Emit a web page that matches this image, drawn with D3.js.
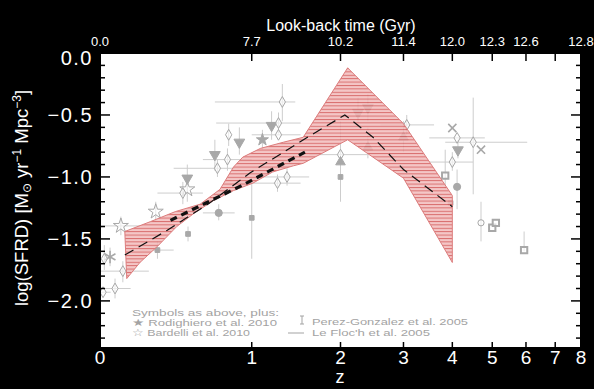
<!DOCTYPE html>
<html>
<head>
<meta charset="utf-8">
<script src="https://cdn.jsdelivr.net/npm/d3@7"></script>
<style>
  body { margin: 0; background: #000; }
  svg { display: block; }
  text { font-family: "Liberation Sans", Arial, sans-serif; }
</style>
</head>
<body>
<div id="chart"></div>
<script>
// axis ticks
const zTicks = [0, 1, 2, 3, 4, 5, 6, 7, 8];
const lookbackLabels = ["0.0", "7.7", "10.2", "11.4", "12.0", "12.3", "12.6", "", "12.8"];
const yMajor = [0, -0.5, -1, -1.5, -2];

// hatched band: upper and lower edges
const upZ = [0.12, 0.26, 0.41, 0.58, 0.73, 0.84, 0.92, 1.08, 1.31, 1.53, 2.1, 3.0, 4.0];
const upV = [-1.44, -1.36, -1.28, -1.22, -1.10, -0.92, -0.84, -0.77, -0.72, -0.68, -0.12, -0.57, -1.15];
const loZ = [0.13, 0.20, 0.30, 0.42, 0.54, 0.68, 0.84, 1.01, 1.20, 1.42, 1.53, 2.1, 3.0, 4.0];
const loV = [-1.82, -1.69, -1.56, -1.40, -1.29, -1.19, -1.11, -1.05, -0.96, -0.91, -0.89, -0.70, -1.01, -1.69];

// thin dashed fit and thick dashed line
const fitZ = [0.12, 0.36, 0.65, 0.98, 1.58, 2.06, 2.48, 3.0, 4.0];
const fitV = [-1.63, -1.43, -1.21, -0.97, -0.68, -0.50, -0.68, -0.94, -1.24];
const lfZ = [0.38, 0.92, 1.55];
const lfV = [-1.35, -1.065, -0.80];

// gray data points (z, log SFRD, symbol, z range, value range)
const ptZ   = [0.047, 0.10, 0.014, 0.071, 0.11, 0.02, 0.29, 0.30, 0.495, 0.49, 0.46, 0.49, 0.72, 1.0, 0.69, 0.89, 0.79, 0.71, 0.80, 1.30, 1.19, 1.26, 1.10, 1.26, 1.25, 1.35, 2.0, 2.0, 2.0, 2.40, 2.25, 2.40, 3.0, 3.06, 3.96, 4.0, 4.11, 4.5, 4.13, 4.7, 4.0, 3.84, 4.11, 4.7, 5.0, 5.1, 5.94];
const ptV   = [-1.645, -1.395, -1.93, -1.90, -1.76, -1.66, -1.28, -1.59, -1.46, -1.10, -1.13, -1.01, -1.29, -1.33, -0.82, -0.72, -0.86, -0.93, -0.66, -0.395, -0.585, -0.565, -0.70, -0.66, -1.05, -1.0, -0.82, -0.88, -1.0, -0.44, -0.48, -0.76, -0.68, -0.58, -1.21, -0.605, -0.685, -0.72, -0.782, -0.78, -0.88, -0.99, -1.08, -1.37, -1.41, -1.37, -1.59];
const ptSym = ["ast", "st", "d", "d", "d", "d", "st", "sf", "sf", "st", "d", "tdn", "c", "sf", "tdn", "tdn", "d", "d", "d", "d", "tdn", "d", "fst", "d", "d", "d", "d", "tup", "sf", "tdn", "tdn", "tup", "tup", "d", "sf", "x", "d", "d", "tdn", "x", "d", "sq", "c", "co", "sq", "sq", "sq"];
const ptZlo = [null, 0.0, 0.0, 0.0, 0.0, null, null, 0.2, null, null, 0.3, null, 0.6, null, null, null, 0.6, 0.4, null, 0.69, null, 0.70, null, 1.0, 0.9, 1.1, 1.6, null, null, null, null, null, null, 2.6, null, null, 3.5, 3.84, null, null, 3.5, null, null, null, null, null, null];
const ptZhi = [null, 0.20, 0.05, 0.15, 0.25, null, null, 0.4, null, null, 0.6, null, 0.85, null, null, null, 1.0, 0.85, null, 1.44, null, 1.5, null, 1.5, 1.5, 1.6, 2.4, null, null, null, null, null, null, 3.6, null, null, 4.8, 6.04, null, null, 4.5, null, null, null, null, null, null];
const ptVlo = [-1.72, -1.47, null, -1.98, -1.85, -1.75, -1.36, -1.66, -1.52, -1.20, -1.22, -1.10, -1.35, -1.66, -0.95, -0.82, -0.95, -1.0, -0.75, -0.55, -0.70, -0.65, -0.78, null, -1.12, -1.07, -1.0, null, -1.2, -0.55, -0.60, -0.85, -0.80, -0.66, null, null, null, -1.14, -0.85, null, -0.95, -1.1, -1.26, -1.52, null, null, -1.6];
const ptVhi = [-1.57, -1.32, null, -1.82, -1.68, -1.55, -1.20, -1.52, -1.40, -1.00, -1.04, -0.90, -1.22, -1.05, -0.70, -0.60, -0.77, -0.86, -0.57, -0.25, -0.47, -0.48, -0.62, null, -0.98, -0.93, -0.55, null, -0.9, -0.33, -0.36, -0.60, -0.55, -0.50, null, null, null, -0.36, -0.70, null, -0.80, -0.78, -0.94, -1.20, null, null, -1.44];

const W = 594, H = 389;
const margin = {top: 53, right: 13, bottom: 41, left: 100};

const x = d3.scaleLog().domain([1, 9]).range([margin.left, W - margin.right]);
const y = d3.scaleLinear().domain([-2.38, 0]).range([H - margin.bottom, margin.top]);
const zx = z => x(1 + z);

const svg = d3.select("#chart").append("svg")
  .attr("width", W)
  .attr("height", H);

svg.append("rect").attr("width", W).attr("height", H).attr("fill", "#000");

const x0 = margin.left, x1 = W - margin.right, y0 = margin.top, y1 = H - margin.bottom;

svg.append("rect")
  .attr("x", x0).attr("y", y0)
  .attr("width", x1 - x0).attr("height", y1 - y0)
  .attr("fill", "#fff");

// hatch pattern for the band
const defs = svg.append("defs");
const pat = defs.append("pattern")
  .attr("id", "hatch")
  .attr("patternUnits", "userSpaceOnUse")
  .attr("width", 6).attr("height", 3.4);
pat.append("rect").attr("width", 6).attr("height", 3.4).attr("fill", "#f2bcbc");
pat.append("line").attr("x1", 0).attr("x2", 6).attr("y1", 0.5).attr("y2", 0.5)
  .attr("stroke", "#cf4a4a").attr("stroke-width", 0.9);

defs.append("clipPath").attr("id", "plotclip")
  .append("rect").attr("x", x0).attr("y", y0).attr("width", x1 - x0).attr("height", y1 - y0);

const plot = svg.append("g").attr("clip-path", "url(#plotclip)");

// gray points with error bars
const pts = ptZ.map((z, i) => ({z: z, v: ptV[i], sym: ptSym[i], zlo: ptZlo[i], zhi: ptZhi[i], vlo: ptVlo[i], vhi: ptVhi[i]}));
const errColor = "#cdcdcd", symColor = "#a8a8a8";

plot.selectAll(".xerr")
  .data(pts.filter(d => d.zlo !== null))
  .enter().append("line")
  .attr("x1", d => zx(d.zlo)).attr("x2", d => zx(d.zhi))
  .attr("y1", d => y(d.v)).attr("y2", d => y(d.v))
  .attr("stroke", errColor).attr("stroke-width", 1);

plot.selectAll(".yerr")
  .data(pts.filter(d => d.vlo !== null))
  .enter().append("line")
  .attr("x1", d => zx(d.z)).attr("x2", d => zx(d.z))
  .attr("y1", d => y(d.vlo)).attr("y2", d => y(d.vhi))
  .attr("stroke", errColor).attr("stroke-width", 1);

const symType = {
  d: d3.symbolDiamond, st: d3.symbolStar, fst: d3.symbolStar, sf: d3.symbolSquare, sq: d3.symbolSquare,
  c: d3.symbolCircle, co: d3.symbolCircle, tdn: d3.symbolTriangle, tup: d3.symbolTriangle,
  x: d3.symbolTimes || d3.symbolCross, ast: d3.symbolAsterisk || d3.symbolCross
};
const symSize = {d: 34, st: 70, fst: 45, sf: 22, sq: 40, c: 40, co: 30, tdn: 50, tup: 40, x: 45, ast: 110};
const openSym = {d: true, st: true, sq: true, co: true, x: true, ast: true};

plot.selectAll(".pt")
  .data(pts)
  .enter().append("path")
  .attr("transform", d => `translate(${zx(d.z)},${y(d.v)})` + (d.sym === "tdn" ? " rotate(180)" : ""))
  .attr("d", d => d3.symbol().type(symType[d.sym]).size(symSize[d.sym])())
  .attr("fill", d => openSym[d.sym] ? (d.sym === "x" || d.sym === "ast" ? "none" : "#fff") : symColor)
  .attr("fill-opacity", d => openSym[d.sym] ? 0.6 : 1)
  .attr("stroke", symColor)
  .attr("stroke-width", d => d.sym === "sq" ? 2 : (d.sym === "x" || d.sym === "ast" ? 1.6 : 1));

// band
const bandPts = upZ.map((z, i) => [zx(z), y(upV[i])])
  .concat(loZ.map((z, i) => [zx(z), y(loV[i])]).reverse());

plot.append("path")
  .attr("d", d3.line()(bandPts) + "Z")
  .attr("fill", "url(#hatch)")
  .attr("fill-opacity", 0.85)
  .attr("stroke", "#dc7c7c")
  .attr("stroke-width", 1);

// dashed lines
plot.append("path")
  .datum(lfZ.map((z, i) => [zx(z), y(lfV[i])]))
  .attr("d", d3.line())
  .attr("fill", "none")
  .attr("stroke", "#111")
  .attr("stroke-width", 3.2)
  .attr("stroke-dasharray", "7,5");

plot.append("path")
  .datum(fitZ.map((z, i) => [zx(z), y(fitV[i])]))
  .attr("d", d3.line())
  .attr("fill", "none")
  .attr("stroke", "#111")
  .attr("stroke-width", 1.2)
  .attr("stroke-dasharray", "10,6");

// frame
svg.append("rect")
  .attr("x", x0).attr("y", y0)
  .attr("width", x1 - x0).attr("height", y1 - y0)
  .attr("fill", "none").attr("stroke", "#000").attr("stroke-width", 2);

// ticks, all pointing inward
const tickG = svg.append("g").attr("stroke", "#000").attr("stroke-width", 1.5);
zTicks.forEach(z => {
  tickG.append("line").attr("x1", zx(z)).attr("x2", zx(z)).attr("y1", y1).attr("y2", y1 - 6);
  tickG.append("line").attr("x1", zx(z)).attr("x2", zx(z)).attr("y1", y0).attr("y2", y0 + 8);
});
d3.range(0, 24).forEach(k => {
  const v = -k / 10;
  const major = k % 5 === 0;
  const len = major ? 10 : 5;
  tickG.append("line").attr("x1", x0).attr("x2", x0 + len).attr("y1", y(v)).attr("y2", y(v));
  tickG.append("line").attr("x1", x1).attr("x2", x1 - len).attr("y1", y(v)).attr("y2", y(v));
});

// tick labels
svg.selectAll(".zlab")
  .data(zTicks)
  .enter().append("text")
  .attr("x", d => zx(d)).attr("y", 364)
  .attr("text-anchor", "middle")
  .attr("fill", "#fff").attr("font-size", 19)
  .text(d => d);

svg.selectAll(".lblab")
  .data(zTicks)
  .enter().append("text")
  .attr("x", d => zx(d)).attr("y", 46)
  .attr("text-anchor", "middle")
  .attr("fill", "#fff").attr("font-size", 13)
  .text((d, i) => lookbackLabels[i]);

svg.selectAll(".ylab")
  .data(yMajor)
  .enter().append("text")
  .attr("x", 93)
  .attr("y", d => Math.max(y(d), 58) + 7)
  .attr("text-anchor", "end")
  .attr("fill", "#fff").attr("font-size", 20)
  .attr("letter-spacing", 1.5)
  .text(d => d3.format(".1f")(d).replace("-", "\u2212"));

// axis titles
svg.append("text")
  .attr("x", 341).attr("y", 31)
  .attr("text-anchor", "middle")
  .attr("fill", "#fff").attr("font-size", 16)
  .text("Look-back time (Gyr)");

svg.append("text")
  .attr("x", 340).attr("y", 383)
  .attr("text-anchor", "middle")
  .attr("fill", "#fff").attr("font-size", 18)
  .text("z");

const ylab = svg.append("text")
  .attr("transform", "translate(28,198) rotate(-90)")
  .attr("text-anchor", "middle")
  .attr("fill", "#fff").attr("font-size", 18.5);
ylab.append("tspan").text("log(SFRD) [M");
ylab.append("tspan").attr("font-size", 12).attr("dy", 3).text("\u2299");
ylab.append("tspan").attr("dy", -3).text(" yr");
ylab.append("tspan").attr("font-size", 12).attr("dy", -7).text("\u22121");
ylab.append("tspan").attr("dy", 7).text(" Mpc");
ylab.append("tspan").attr("font-size", 12).attr("dy", -7).text("\u22123");
ylab.append("tspan").attr("dy", 7).text("]");

// in-plot legend text
const legColor = "#a3a3a3";
const legText = ["Symbols as above, plus:", "\u2605 Rodighiero et al. 2010", "\u2606 Bardelli et al. 2010", "Perez-Gonzalez et al. 2005", "Le Floc'h et al. 2005"];
const legX = [132, 132, 132, 312, 312];
const legY = [316, 326, 336, 325, 336];
const legLen = [147, 145, 118, 156, 118];
legText.forEach((t, i) => {
  svg.append("text").attr("x", legX[i]).attr("y", legY[i])
    .attr("fill", legColor).attr("font-size", 9.5)
    .attr("textLength", legLen[i]).attr("lengthAdjust", "spacingAndGlyphs")
    .text(t);
});

const legG = svg.append("g").attr("stroke", legColor).attr("stroke-width", 1);
legG.append("line").attr("x1", 302).attr("x2", 302).attr("y1", 316).attr("y2", 324);
legG.append("line").attr("x1", 300).attr("x2", 304).attr("y1", 316).attr("y2", 316);
legG.append("line").attr("x1", 300).attr("x2", 304).attr("y1", 324).attr("y2", 324);
legG.append("line").attr("x1", 288).attr("x2", 304).attr("y1", 333).attr("y2", 333);
</script>
</body>
</html>
